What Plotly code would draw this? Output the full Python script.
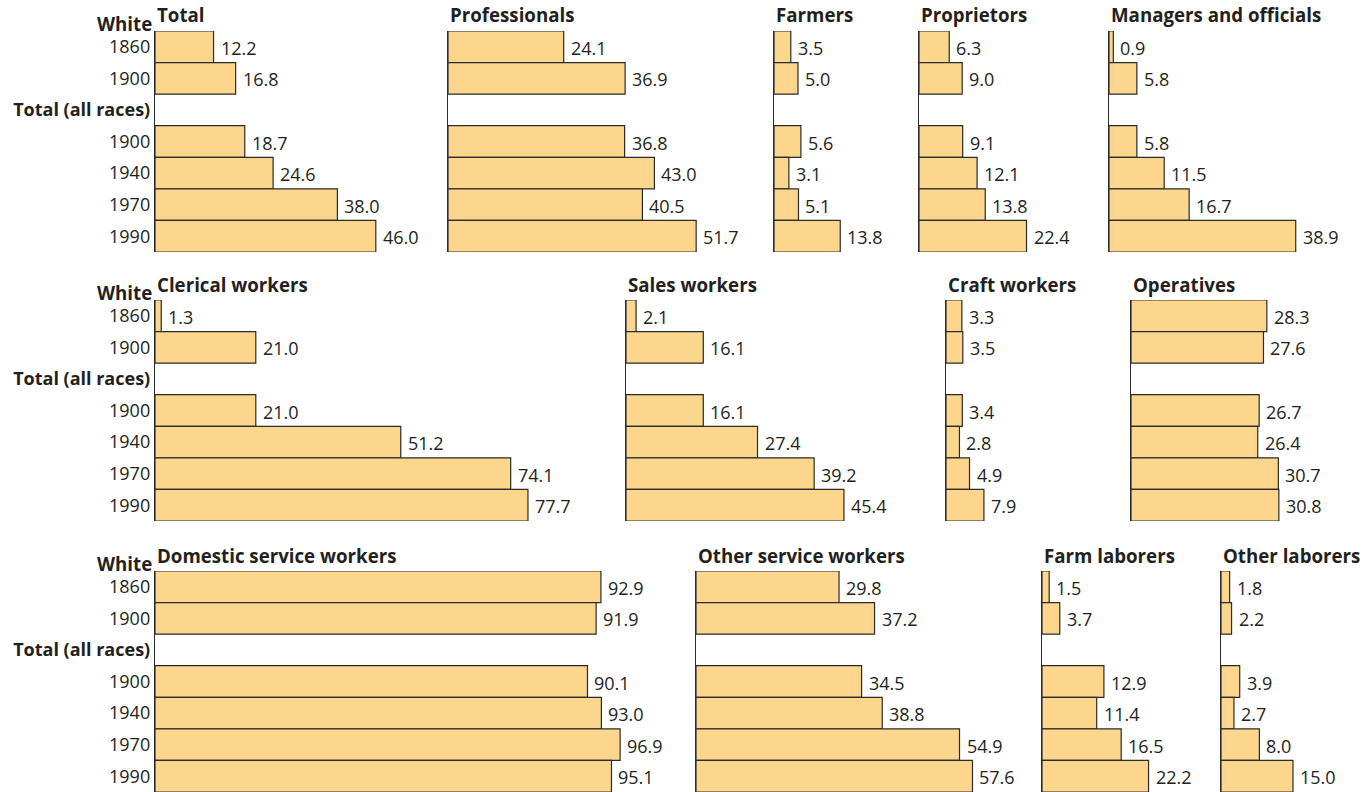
import plotly.graph_objects as go

# ---------------- data ----------------
categories = ["W1860", "W1900", "GAP", "T1900", "T1940", "T1970", "T1990"]
tick_labels = ["1860", "1900", "<b>Total (all races)</b>", "1900", "1940", "1970", "1990"]
bar_categories = ["W1860", "W1900", "T1900", "T1940", "T1970", "T1990"]

titles = [
    "Total", "Professionals", "Farmers", "Proprietors", "Managers and officials",
    "Clerical workers", "Sales workers", "Craft workers", "Operatives",
    "Domestic service workers", "Other service workers", "Farm laborers", "Other laborers",
]

total = [12.2, 16.8, 18.7, 24.6, 38.0, 46.0]
professionals = [24.1, 36.9, 36.8, 43.0, 40.5, 51.7]
farmers = [3.5, 5.0, 5.6, 3.1, 5.1, 13.8]
proprietors = [6.3, 9.0, 9.1, 12.1, 13.8, 22.4]
managers = [0.9, 5.8, 5.8, 11.5, 16.7, 38.9]
clerical = [1.3, 21.0, 21.0, 51.2, 74.1, 77.7]
sales = [2.1, 16.1, 16.1, 27.4, 39.2, 45.4]
craft = [3.3, 3.5, 3.4, 2.8, 4.9, 7.9]
operatives = [28.3, 27.6, 26.7, 26.4, 30.7, 30.8]
domestic = [92.9, 91.9, 90.1, 93.0, 96.9, 95.1]
other_service = [29.8, 37.2, 34.5, 38.8, 54.9, 57.6]
farm_laborers = [1.5, 3.7, 12.9, 11.4, 16.5, 22.2]
other_laborers = [1.8, 2.2, 3.9, 2.7, 8.0, 15.0]

series = [total, professionals, farmers, proprietors, managers,
          clerical, sales, craft, operatives,
          domestic, other_service, farm_laborers, other_laborers]

# ---------------- layout geometry (pixels) ----------------
W, H = 1369, 792
PX_PER_UNIT = 4.8
ROW_H = 221
row_tops = [31, 300, 571]
panel_rows = [0, 0, 0, 0, 0, 1, 1, 1, 1, 2, 2, 2, 2]
panel_starts = [155, 448, 774, 919, 1109, 155, 626, 946, 1131, 155, 696, 1042, 1221]

FONT = "Open Sans, Noto Sans, Liberation Sans, sans-serif"
TXT = "#231f20"
FILL = "#fdd68e"
EDGE = "#2b2b2b"
BOLD_SIZE = 18.7

fig = go.Figure()
layout = dict(
    width=W, height=H,
    margin=dict(l=0, r=0, t=0, b=0),
    paper_bgcolor="white", plot_bgcolor="white",
    showlegend=False, bargap=0,
    font=dict(family=FONT, size=18, color=TXT),
)
annotations = []

for i, (title, vals) in enumerate(zip(titles, series)):
    r = panel_rows[i]
    x0 = panel_starts[i]
    if i + 1 < len(titles) and panel_rows[i + 1] == r:
        x1 = panel_starts[i + 1] - 4
    else:
        x1 = W
    top = row_tops[r]
    sfx = "" if i == 0 else str(i + 1)
    xname, yname = "x" + sfx, "y" + sfx
    first_in_row = (i == 0) or (panel_rows[i - 1] != r)

    layout["xaxis" + sfx] = dict(
        domain=[x0 / W, x1 / W], range=[0, (x1 - x0) / PX_PER_UNIT],
        visible=False, anchor=yname, fixedrange=True,
    )
    layout["yaxis" + sfx] = dict(
        domain=[1 - (top + ROW_H) / H, 1 - top / H],
        type="category", categoryorder="array", categoryarray=categories,
        range=[6.5, -0.5], anchor=xname,
        showline=True, linecolor=EDGE, linewidth=1.2,
        showgrid=False, zeroline=False, ticks="",
        tickvals=categories, ticktext=tick_labels,
        showticklabels=first_in_row,
        tickfont=dict(family=FONT, size=18, color=TXT),
        fixedrange=True,
    )

    fig.add_trace(go.Bar(
        x=vals, y=bar_categories, orientation="h",
        xaxis=xname, yaxis=yname,
        marker=dict(color=FILL, line=dict(color=EDGE, width=1.2)),
        hoverinfo="skip",
    ))

    for v, c in zip(vals, bar_categories):
        annotations.append(dict(
            x=v, y=c, xref=xname, yref=yname, text=f"{v:.1f}",
            showarrow=False, xanchor="left", yanchor="middle",
            xshift=5, yshift=-1,
            font=dict(family=FONT, size=18, color=TXT),
        ))

    annotations.append(dict(
        x=x0 / W, y=1 - (top - 16) / H, xref="paper", yref="paper",
        text=f"<b>{title}</b>", showarrow=False,
        xanchor="left", yanchor="middle",
        font=dict(family=FONT, size=BOLD_SIZE, color=TXT),
    ))
    if first_in_row:
        annotations.append(dict(
            x=154 / W, y=1 - (top - 8) / H, xref="paper", yref="paper",
            text="<b>White</b>", showarrow=False,
            xanchor="right", yanchor="middle",
            font=dict(family=FONT, size=BOLD_SIZE, color=TXT),
        ))

layout["annotations"] = annotations
fig.update_layout(**layout)
fig.write_html(
    "out.html",
    config={"displayModeBar": False, "staticPlot": True},
    post_script="document.body.style.margin='0';document.body.style.overflow='hidden';",
)
